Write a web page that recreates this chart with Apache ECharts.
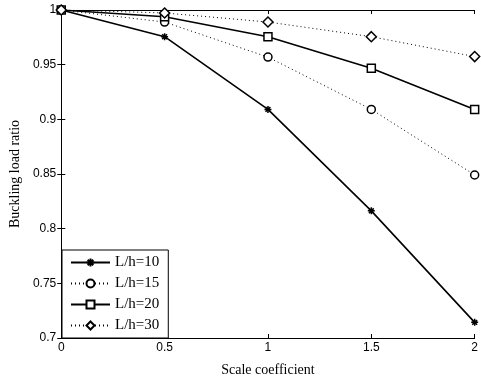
<!DOCTYPE html>
<html>
<head>
<meta charset="utf-8">
<script src="https://cdn.jsdelivr.net/npm/echarts@6/dist/echarts.min.js"></script>
<style>
  html, body { margin: 0; padding: 0; background: #fff; }
  #chart { width: 481px; height: 382px; }
</style>
</head>
<body>
<div id="chart"></div>
<script>
// scale coefficient values (x axis)
const scale = [0, 0.5, 1, 1.5, 2];

// buckling load ratio for each slenderness
const lh10 = [1, 0.9756, 0.9091, 0.8163, 0.7143];
const lh15 = [1, 0.9890, 0.9569, 0.9091, 0.8491];
const lh20 = [1, 0.9938, 0.9756, 0.9467, 0.9091];
const lh30 = [1, 0.9973, 0.9890, 0.9756, 0.9574];

const names = ['L/h=10', 'L/h=15', 'L/h=20', 'L/h=30'];

var dom = document.getElementById('chart');
var myChart = echarts.init(dom, null, { renderer: 'canvas' });

// asterisk marker
const star = 'path://M5,0L5,10M0,5L10,5M1.5,1.5L8.5,8.5M8.5,1.5L1.5,8.5';

function pts(arr) {
    return scale.map((x, i) => [x, arr[i]]);
}

function mkSeries(name, arr, dashed, symbol, size) {
    return {
        name: name,
        type: 'line',
        data: pts(arr),
        symbol: symbol,
        symbolSize: size,
        showSymbol: true,
        lineStyle: {
            color: '#000',
            width: dashed ? 1 : 1.6,
            type: dashed ? [1, 3] : 'solid'
        },
        itemStyle: {
            color: '#fff',
            borderColor: '#000',
            borderWidth: 1.5
        },
        emphasis: { disabled: true },
        animation: false
    };
}

const tickLabel = {
    fontFamily: 'Liberation Sans',
    fontSize: 12,
    color: '#000'
};

const option = {
    backgroundColor: '#fff',
    animation: false,
    grid: { left: 60, right: 2, top: 10, bottom: 40, containLabel: false },
    legend: {
        left: 62,
        top: 250,
        orient: 'vertical',
        itemWidth: 39,
        itemHeight: 10,
        itemGap: 6,
        padding: [5, 9, 5, 8],
        borderColor: '#000',
        borderWidth: 1,
        backgroundColor: '#fff',
        textStyle: { fontFamily: 'Liberation Serif', fontSize: 15, color: '#000' },
        data: names
    },
    xAxis: [
        {
            type: 'value',
            min: 0, max: 2, interval: 0.5,
            name: 'Scale coefficient',
            nameLocation: 'middle',
            nameGap: 25,
            nameTextStyle: { fontFamily: 'Liberation Serif', fontSize: 14, color: '#000' },
            axisLine: { show: true, lineStyle: { color: '#000', width: 1 } },
            axisTick: { show: true, inside: true, length: 4, lineStyle: { color: '#000' } },
            axisLabel: Object.assign({ margin: 4 }, tickLabel),
            splitLine: { show: false }
        },
        {
            type: 'value',
            position: 'top',
            min: 0, max: 2, interval: 0.5,
            axisLine: { show: true, lineStyle: { color: '#000', width: 1 } },
            axisTick: { show: true, inside: true, length: 4, lineStyle: { color: '#000' } },
            axisLabel: { show: false },
            splitLine: { show: false }
        }
    ],
    yAxis: [
        {
            type: 'value',
            min: 0.7, max: 1, interval: 0.05,
            name: 'Buckling load ratio',
            nameLocation: 'middle',
            nameGap: 37,
            nameTextStyle: { fontFamily: 'Liberation Serif', fontSize: 14, color: '#000' },
            axisLine: { show: true, lineStyle: { color: '#000', width: 1 } },
            axisTick: { show: true, inside: true, length: 4, lineStyle: { color: '#000' } },
            axisLabel: Object.assign({ margin: 5 }, tickLabel),
            splitLine: { show: false }
        },
        {
            type: 'value',
            position: 'right',
            min: 0.7, max: 1, interval: 0.05,
            axisLine: { show: true, lineStyle: { color: '#000', width: 1 } },
            axisTick: { show: true, inside: true, length: 4, lineStyle: { color: '#000' } },
            axisLabel: { show: false },
            splitLine: { show: false }
        }
    ],
    series: [
        mkSeries(names[0], lh10, false, star, 7),
        mkSeries(names[1], lh15, true, 'circle', 8),
        mkSeries(names[2], lh20, false, 'rect', 8),
        mkSeries(names[3], lh30, true, 'diamond', 10)
    ]
};
// star marker filled black
option.series[0].itemStyle = { color: '#000', borderColor: '#000', borderWidth: 1.5 };

if (option && typeof option === 'object') {
    myChart.setOption(option);
}

window.addEventListener('resize', myChart.resize);
</script>
</body>
</html>
